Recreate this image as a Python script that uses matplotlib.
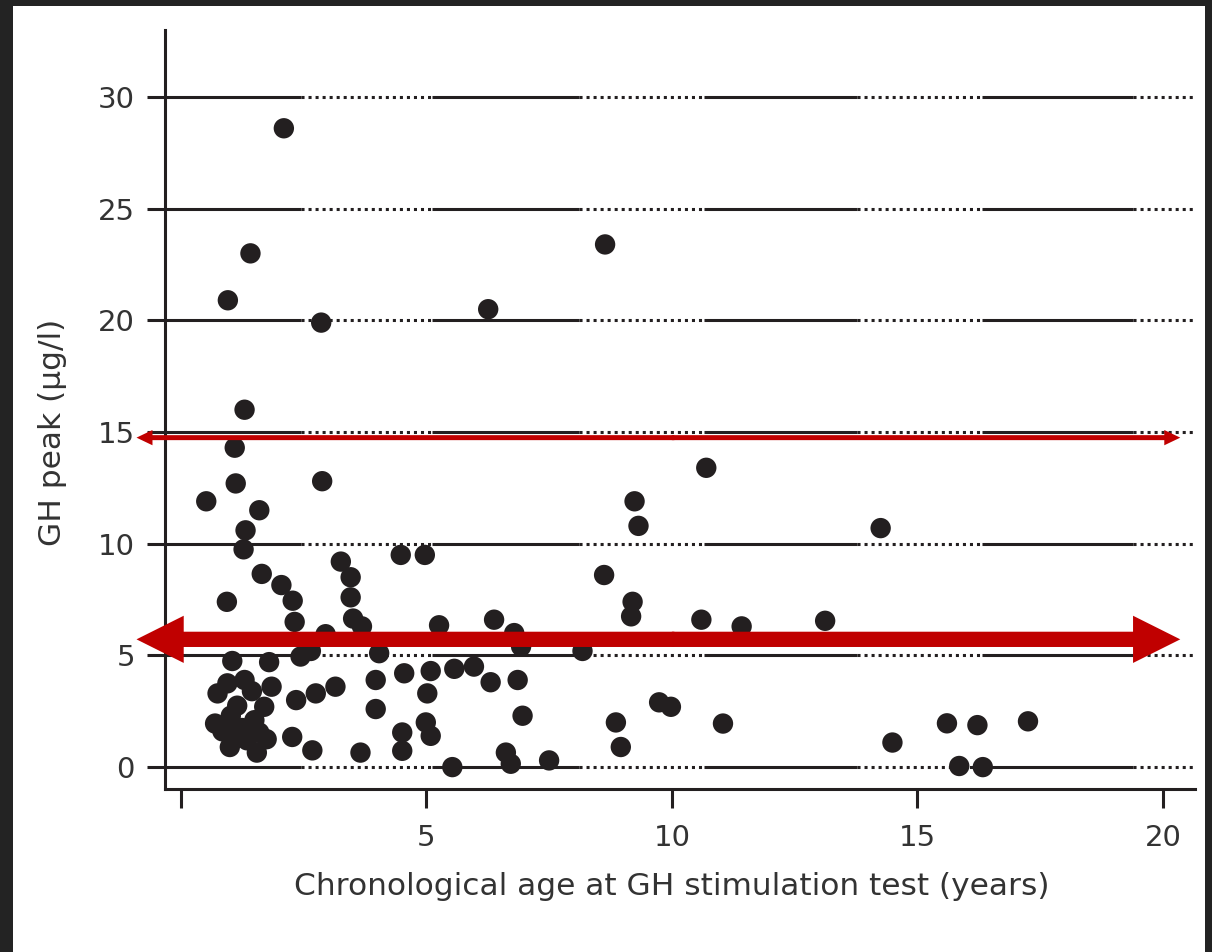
import matplotlib
matplotlib.use('Agg')
import matplotlib.pyplot as plt
from matplotlib.patches import FancyArrowPatch, ArrowStyle, Rectangle

# GH peak vs chronological age at stimulation test
age = [
    2.10, 1.42, 0.96, 2.86, 8.64, 6.26, 1.30, 1.10, 1.12, 0.52, 1.60, 1.32, 1.28, 2.88,
    10.70, 9.24, 9.32, 14.25,
    0.94, 1.65, 2.05, 2.28, 2.32, 3.26, 3.46, 3.46, 3.51, 3.69, 4.48, 4.97, 8.62, 9.20,
    9.17, 10.60, 11.42, 13.12, 5.26, 6.38, 6.79, 2.95,
    4.55, 5.09, 5.57, 5.97, 6.31, 6.86, 5.02, 6.96, 4.99, 5.09, 4.51, 4.51, 5.53, 6.62,
    6.72, 7.50, 8.86, 8.96, 9.74, 9.98, 11.04, 14.49, 15.60, 16.22, 17.25, 15.85, 16.33,
    3.97, 3.97, 4.04, 3.66, 2.68, 2.27, 3.15, 2.75, 2.35, 2.44, 2.65, 6.93, 8.18,
    1.05, 1.80, 0.75, 0.95, 1.30, 1.45, 1.85, 0.70, 1.02, 1.15, 1.25, 1.50, 1.70, 1.60,
    1.75, 1.00, 1.55, 1.35, 0.85, 1.12,
]
gh_peak = [
    28.6, 23.0, 20.9, 19.9, 23.4, 20.5, 16.0, 14.3, 12.7, 11.9, 11.5, 10.6, 9.75, 12.8,
    13.4, 11.9, 10.8, 10.7,
    7.4, 8.65, 8.15, 7.45, 6.5, 9.2, 8.5, 7.6, 6.65, 6.3, 9.5, 9.5, 8.6, 7.4,
    6.75, 6.6, 6.3, 6.55, 6.35, 6.6, 6.0, 5.95,
    4.2, 4.3, 4.4, 4.5, 3.8, 3.9, 3.3, 2.3, 2.0, 1.4, 1.55, 0.73, 0.0, 0.65,
    0.15, 0.3, 2.0, 0.9, 2.9, 2.7, 1.95, 1.1, 1.96, 1.88, 2.05, 0.05, 0.0,
    3.9, 2.6, 5.1, 0.65, 0.75, 1.35, 3.6, 3.3, 3.0, 4.95, 5.2, 5.4, 5.2,
    4.75, 4.7, 3.3, 3.75, 3.9, 3.4, 3.6, 1.95, 2.3, 2.75, 1.75, 2.1, 2.7, 1.55,
    1.25, 0.9, 0.65, 1.2, 1.6, 1.5,
]

x_ticks = [0, 5, 10, 15, 20]
x_tick_labels = ['', '5', '10', '15', '20']
y_ticks = [0, 5, 10, 15, 20, 25, 30]

upper_cutoff = 14.75
lower_cutoff = 5.72
arrow_start, arrow_end = -0.9, 20.35

INK = '#231f20'
TEXT = '#333333'
RED = '#c00000'

# gridline pattern of the original: alternating solid / dotted stretches
grid_breaks = [-0.33, 2.45, 5.12, 8.11, 10.66, 13.76, 16.31, 19.39, 20.65]

fig = plt.figure(figsize=(12.12, 9.52), dpi=100)
fig.patch.set_facecolor('#232323')
bg = fig.add_axes([13 / 1212, 0, (1205 - 13) / 1212, (952 - 6) / 952], zorder=-5)
bg.axis('off')
bg.add_patch(Rectangle((0, 0), 1, 1, transform=bg.transAxes, facecolor='white',
                       edgecolor='none'))

ax = fig.add_axes([164.5 / 1212, 1 - 789 / 952, (1195 - 164.5) / 1212, (789 - 30) / 952])
ax.set_facecolor('none')
ax.set_xlim(-0.33, 20.65)
ax.set_ylim(-0.98, 33.0)

for y in y_ticks:
    for i in range(len(grid_breaks) - 1):
        ls = '-' if i % 2 == 0 else (0, (1, 1.3))
        ax.plot([grid_breaks[i], grid_breaks[i + 1]], [y, y], color=INK, lw=2.2,
                linestyle=ls, solid_capstyle='butt', dash_capstyle='butt', zorder=1)

ax.scatter(age, gh_peak, s=215, color=INK, edgecolors='none', zorder=3)

# reference ranges as double-headed arrows (two single-headed halves)
thin = ArrowStyle('Simple', head_length=11.5, head_width=11, tail_width=3.6)
thick = ArrowStyle('Simple', head_length=34, head_width=34, tail_width=11)
mid_a, mid_b = 10.0, 10.05
for yv, style in [(upper_cutoff, thin), (lower_cutoff, thick)]:
    for a, b in [(mid_b, arrow_start), (mid_a, arrow_end)]:
        arr = FancyArrowPatch((a, yv), (b, yv), arrowstyle=style, mutation_scale=1,
                              shrinkA=0, shrinkB=0, lw=0, color=RED,
                              clip_on=False, zorder=4)
        ax.add_patch(arr)

for side in ['top', 'right']:
    ax.spines[side].set_visible(False)
for side in ['left', 'bottom']:
    ax.spines[side].set_linewidth(2.2)
    ax.spines[side].set_color(INK)

ax.set_xticks(x_ticks)
ax.set_xticklabels(x_tick_labels)
ax.set_yticks(y_ticks)
ax.tick_params(axis='x', direction='out', length=13.5, width=2.2, color=INK,
               pad=12, labelsize=21, labelcolor=TEXT)
ax.tick_params(axis='y', direction='out', length=13.3, width=2.2, color=INK,
               pad=8, labelsize=21, labelcolor=TEXT)

ax.set_xlabel('Chronological age at GH stimulation test (years)', fontsize=22.5,
              color=TEXT)
ax.xaxis.set_label_coords(0.4925, -0.11)
ax.xaxis.label.set_va('top')
ax.set_ylabel('GH peak (µg/l)', fontsize=22.5, color=TEXT)
ax.yaxis.set_label_coords(-0.095, 0.47)

fig.savefig('out.png', dpi=100, facecolor=fig.get_facecolor())
